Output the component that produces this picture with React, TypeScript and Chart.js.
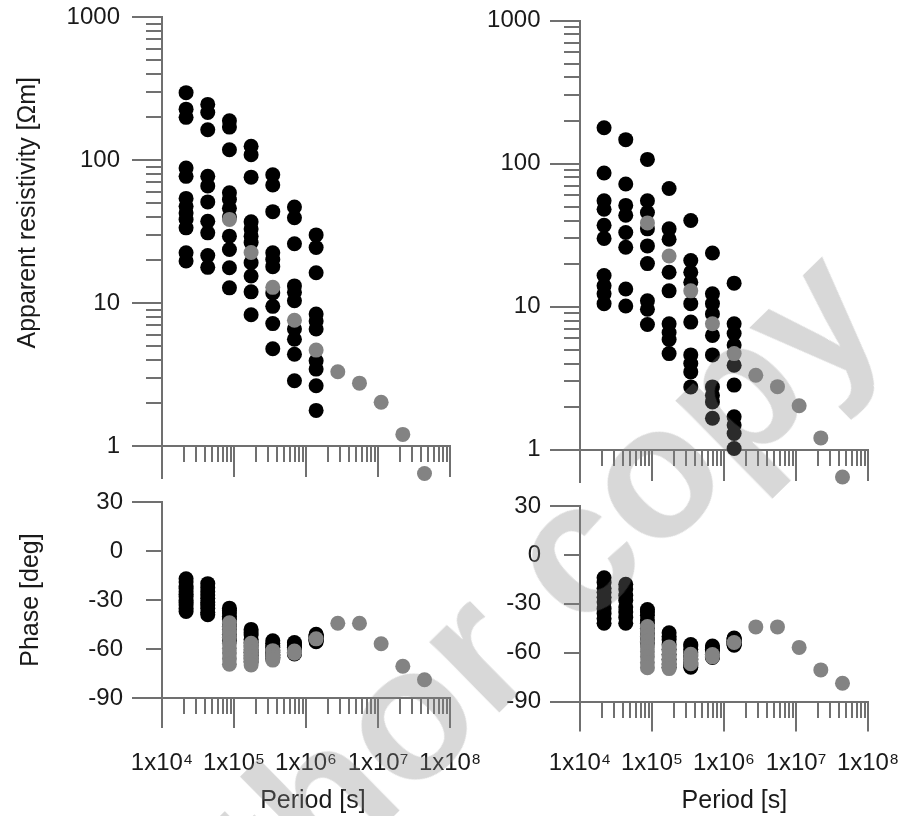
import React, { useEffect, useRef } from "react";
import { Chart, registerables } from "chart.js";

Chart.register(...registerables);

const FONT = "'Liberation Sans', Arial, Helvetica, sans-serif";
const CANVAS_W = 903;
const CANVAS_H = 816;
const AXIS = "#707070";
const TEXT = "#1a1a1a";
const BLACK = "#000000";
const GRAY = "#838383";

// Periods [s] (0.25 d ... 16 d observed, 1 d ... 512 d model)
const observedPeriods = [21600, 43200, 86400, 172800, 345600, 691200, 1382400];
const modelPeriods = [86400, 172800, 345600, 691200, 1382400, 2764800, 5529600, 11059200, 22118400, 44236800];

// Site A (left column) apparent resistivity [Ohm m], one list per period
const rhoSiteA = [
  [296, 227, 199, 88, 77, 54, 47.5, 42.7, 38.4, 33.6, 22.5, 19.7],
  [245, 215, 163, 77, 66, 51, 37.4, 31, 21.5, 17.8],
  [188, 170, 118, 59, 53, 46, 40, 29.4, 23.7, 17.7, 12.8],
  [125, 109, 76, 37, 33, 29.4, 26.5, 19.2, 15.5, 12, 8.3],
  [79, 67, 43.6, 22.5, 20.2, 18, 11.8, 9.5, 7.2, 4.8],
  [47, 39.5, 26, 13.2, 11.9, 10.4, 6.6, 5.6, 4.4, 2.87],
  [30, 24.5, 16.3, 8.4, 7.5, 6.6, 3.96, 3.46, 2.65, 1.78],
];

// Site A phase [deg]
const phaseSiteA = [
  [-17, -19, -21.5, -23, -25, -26.5, -28, -30, -31.5, -33, -35, -37],
  [-20, -22.5, -25, -27, -29, -31.5, -33, -35, -37.5, -39],
  [-35, -36.5, -38, -40, -42, -44.5, -46, -48, -51, -53, -55],
  [-48, -50, -51.5, -54, -56, -58, -60.5, -62, -64, -66, -68],
  [-55, -56.5, -58, -59, -61, -62, -63.5, -64, -65, -66],
  [-56, -57, -58, -59, -60, -60.5, -61, -62, -62.5, -63],
  [-51, -51.5, -52, -52.5, -53, -53.5, -54, -54.5, -55, -55.5],
];

// Site B (right column) apparent resistivity [Ohm m]
const rhoSiteB = [
  [178, 86, 55, 48, 37, 30, 16.5, 14, 12.3, 10.5],
  [147, 72, 51, 43.5, 33, 26, 13.3, 10.1],
  [107, 55, 45.5, 35, 26.6, 20, 11, 9.6, 7.5],
  [67, 35, 29.6, 17.4, 12.9, 7.6, 6.6, 5.9, 4.7],
  [40, 21, 17.4, 14.8, 10.5, 7.8, 4.6, 4, 3.5, 2.75],
  [23.7, 12.3, 10.5, 8.9, 6.3, 4.6, 2.75, 2.4, 2.16, 1.66],
  [14.6, 7.6, 6.5, 5.4, 3.9, 2.83, 1.7, 1.49, 1.3, 1.02],
];

// Site B phase [deg]
const phaseSiteB = [
  [-14, -17, -20.5, -23, -26, -29, -33, -36, -39, -42],
  [-18, -21, -25, -28, -32, -35, -38.5, -42],
  [-33.5, -35, -37, -40, -42, -45, -48, -51, -54],
  [-47.8, -50, -52, -55, -58, -61, -64, -67, -69],
  [-55, -56, -58, -60, -62, -64, -66, -67, -68, -69],
  [-56, -57, -58, -59, -60, -61, -61.5, -62, -62.5, -63],
  [-51, -51.5, -52, -52.5, -53, -53.5, -54, -54.5, -55, -55.5],
];

// Model response (gray)
const modelRho = [38.5, 22.6, 12.9, 7.6, 4.7, 3.32, 2.76, 2.03, 1.21, 0.645];
const modelPhase = [
  [-44, -47, -50, -53, -56.5, -59.5, -62.5, -66, -69.3],
  [-56.5, -59, -62, -65, -67.5, -69.8],
  [-61, -63.5, -65, -66.8],
  [-61.2, -62.6],
  [-53.8],
  [-44.2],
  [-44.2],
  [-56.8],
  [-70.6],
  [-78.8],
];

// Axis ticks
const periodDecades = [1e4, 1e5, 1e6, 1e7, 1e8];
const periodTickLabels = ["1x10\u2074", "1x10\u2075", "1x10\u2076", "1x10\u2077", "1x10\u2078"];
const rhoDecades = [1, 10, 100, 1000];
const rhoTickLabels = ["1", "10", "100", "1000"];
const phaseTicks = [-90, -60, -30, 0, 30];
const phaseTickLabels = ["-90", "-60", "-30", "0", "30"];
const phaseLongTicks = [-90, 30];
const minorMultipliers = [2, 3, 4, 5, 6, 7, 8, 9];

const MAJOR_TICK = 30;

function logTicks(decades: number[]): number[] {
  const out: number[] = [];
  decades.forEach((d, i) => {
    out.push(d);
    if (i < decades.length - 1) minorMultipliers.forEach((m) => out.push(d * m));
  });
  return out;
}

function isIn(list: number[], v: number | undefined): boolean {
  if (v === undefined || v === null) return false;
  return list.some((d) => Math.abs(d - v) <= Math.abs(d) * 1e-9 + 1e-9);
}

function labelFor(list: number[], labels: string[], v: number): string {
  const i = list.findIndex((d) => Math.abs(d - v) <= Math.abs(d) * 1e-9 + 1e-9);
  return i >= 0 ? labels[i] : "";
}

function toPoints(cols: number[][], pers: number[]) {
  const pts: { x: number; y: number }[] = [];
  cols.forEach((col, i) => col.forEach((v) => pts.push({ x: pers[i], y: v })));
  return pts;
}

type PanelSpec = {
  kind: "rho" | "phase";
  left: number;
  right: number;
  top: number;
  axisY: number; // pixel row of the horizontal axis
  xAxisHeight: number;
  yTickPad: number;
  xLabelPad: number;
  showPeriodLabels: boolean;
  observed: number[][];
  yTitle?: string;
  yTitlePad?: number;
  xTitle?: string;
};

const panels: PanelSpec[] = [
  {
    kind: "rho", left: 162, right: 450, top: 17, axisY: 448, xAxisHeight: 40,
    yTickPad: 12, xLabelPad: 10, showPeriodLabels: false, observed: rhoSiteA,
    yTitle: "          Apparent resistivity [\u03A9m]", yTitlePad: 13.5,
  },
  {
    kind: "phase", left: 162, right: 450, top: 502, axisY: 698, xAxisHeight: 118,
    yTickPad: 9, xLabelPad: 21, showPeriodLabels: true, observed: phaseSiteA,
    yTitle: "Phase [deg]", yTitlePad: 16.5, xTitle: "  Period [s]",
  },
  {
    kind: "rho", left: 580, right: 868, top: 20.5, axisY: 451.5, xAxisHeight: 40,
    yTickPad: 9.5, xLabelPad: 10, showPeriodLabels: false, observed: rhoSiteB,
  },
  {
    kind: "phase", left: 580, right: 868, top: 506, axisY: 701.5, xAxisHeight: 114.5,
    yTickPad: 9, xLabelPad: 17, showPeriodLabels: true, observed: phaseSiteB,
    xTitle: "   Period [s]",
  },
];

function buildConfig(p: PanelSpec): any {
  const isRho = p.kind === "rho";
  const periodTickValues = logTicks(periodDecades);
  const rhoTickValues = logTicks(rhoDecades);
  const blackPts = toPoints(p.observed, observedPeriods);
  const grayPts = isRho
    ? modelRho.map((v, i) => ({ x: modelPeriods[i], y: v }))
    : toPoints(modelPhase, modelPeriods);

  // For the resistivity panels the plot area continues below the "1" axis
  // (down to the end of the long period ticks) so that the model point
  // below 1 Ohm m is still drawn; the period axis sits at y = 1.
  const chartBottom = isRho ? p.axisY + MAJOR_TICK : p.axisY;
  const rhoMin = Math.pow(10, (-3 * MAJOR_TICK) / (p.axisY - p.top));

  const zeroPad = (s: any) => {
    s.paddingLeft = 0;
    s.paddingRight = 0;
    s.paddingTop = 0;
    s.paddingBottom = 0;
  };

  const commonGrid = {
    display: true,
    drawOnChartArea: false,
    drawTicks: true,
    tickLength: MAJOR_TICK,
    lineWidth: 2,
    tickWidth: 2,
    color: AXIS,
    tickColor: AXIS,
  };

  const yScale: any = isRho
    ? {
        type: "logarithmic",
        min: rhoMin,
        max: 1000,
        afterBuildTicks: (s: any) => {
          s.ticks = rhoTickValues.map((v) => ({ value: v, major: isIn(rhoDecades, v) }));
        },
        ticks: {
          autoSkip: false,
          padding: p.yTickPad,
          color: TEXT,
          font: { family: FONT, size: 24 },
          callback: (v: number) => labelFor(rhoDecades, rhoTickLabels, v),
        },
        grid: {
          ...commonGrid,
          tickBorderDash: (c: any) => (isIn(rhoDecades, c.tick && c.tick.value) ? [] : [0, 14, 20, 100]),
        },
      }
    : {
        type: "linear",
        min: -90,
        max: 30,
        afterBuildTicks: (s: any) => {
          s.ticks = phaseTicks.map((v) => ({ value: v }));
        },
        ticks: {
          autoSkip: false,
          padding: p.yTickPad,
          color: TEXT,
          font: { family: FONT, size: 24 },
          callback: (v: number) => labelFor(phaseTicks, phaseTickLabels, v),
        },
        grid: {
          ...commonGrid,
          tickBorderDash: (c: any) => (isIn(phaseLongTicks, c.tick && c.tick.value) ? [] : [0, 14, 20, 100]),
        },
      };

  yScale.position = "left";
  yScale.border = { display: true, color: AXIS, width: 2 };
  yScale.afterFit = (s: any) => {
    s.width = p.left;
    zeroPad(s);
  };
  yScale.title = p.yTitle
    ? {
        display: true,
        text: p.yTitle,
        color: TEXT,
        font: { family: FONT, size: 25 },
        padding: { top: p.yTitlePad || 0, bottom: 0 },
      }
    : { display: false };

  const xScale: any = {
    type: "logarithmic",
    position: isRho ? { y: 1 } : "bottom",
    min: 1e4,
    max: 1e8,
    afterBuildTicks: (s: any) => {
      s.ticks = periodTickValues.map((v) => ({ value: v, major: isIn(periodDecades, v) }));
    },
    afterFit: (s: any) => {
      s.height = p.xAxisHeight;
      zeroPad(s);
    },
    ticks: {
      autoSkip: false,
      maxRotation: 0,
      minRotation: 0,
      padding: p.xLabelPad,
      color: TEXT,
      font: { family: FONT, size: 24 },
      callback: (v: number) => (p.showPeriodLabels ? labelFor(periodDecades, periodTickLabels, v) : ""),
    },
    grid: {
      ...commonGrid,
      tickBorderDash: (c: any) => (isIn(periodDecades, c.tick && c.tick.value) ? [] : [15, 100]),
    },
    border: { display: true, color: AXIS, width: 2 },
    title: p.xTitle
      ? {
          display: true,
          text: p.xTitle,
          color: TEXT,
          font: { family: FONT, size: 25 },
          padding: 0,
        }
      : { display: false },
  };

  const bottomPad = isRho ? CANVAS_H - chartBottom : CANVAS_H - chartBottom - p.xAxisHeight;

  return {
    type: "scatter",
    data: {
      datasets: [
        {
          label: "Model",
          data: grayPts,
          backgroundColor: GRAY,
          borderWidth: 0,
          pointRadius: 7.5,
          pointHoverRadius: 7.5,
          clip: false,
          order: 0,
        },
        {
          label: "Observed",
          data: blackPts,
          backgroundColor: BLACK,
          borderWidth: 0,
          pointRadius: 7.5,
          pointHoverRadius: 7.5,
          clip: false,
          order: 1,
        },
      ],
    },
    options: {
      responsive: false,
      maintainAspectRatio: false,
      animation: false,
      devicePixelRatio: 1,
      events: [],
      layout: {
        padding: {
          left: 0,
          top: p.top,
          right: CANVAS_W - p.right,
          bottom: bottomPad,
        },
      },
      plugins: {
        legend: { display: false },
        tooltip: { enabled: false },
        title: { display: false },
      },
      scales: { x: xScale, y: yScale },
    },
  };
}

export default function App() {
  const refs = [
    useRef<HTMLCanvasElement>(null),
    useRef<HTMLCanvasElement>(null),
    useRef<HTMLCanvasElement>(null),
    useRef<HTMLCanvasElement>(null),
  ];

  useEffect(() => {
    const charts: Chart[] = [];
    panels.forEach((p, i) => {
      const c = refs[i].current;
      if (c) charts.push(new Chart(c, buildConfig(p)));
    });
    return () => charts.forEach((ch) => ch.destroy());
  }, []);

  return (
    <div
      style={{
        position: "absolute",
        left: 0,
        top: 0,
        width: CANVAS_W,
        height: CANVAS_H,
        overflow: "hidden",
        background: "#ffffff",
      }}
    >
      {refs.map((r, i) => (
        <canvas
          key={i}
          ref={r}
          width={CANVAS_W}
          height={CANVAS_H}
          style={{ position: "absolute", left: 0, top: 0, width: CANVAS_W, height: CANVAS_H }}
        />
      ))}
      <div
        style={{
          position: "absolute",
          left: 463,
          top: 657,
          transform: "translate(-50%, -50%) rotate(-44.5deg)",
          font: `bold 188px ${FONT}`,
          lineHeight: 1,
          color: "rgba(135,135,135,0.32)",
          whiteSpace: "nowrap",
          pointerEvents: "none",
        }}
      >
        author copy
      </div>
    </div>
  );
}
